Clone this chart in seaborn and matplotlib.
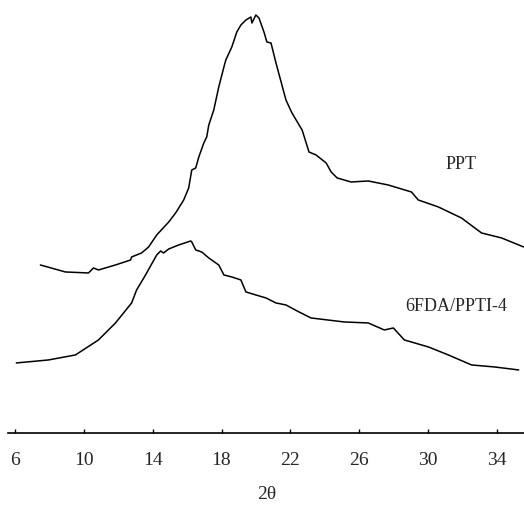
import matplotlib as mpl
mpl.use('Agg')
from matplotlib import pyplot as plt
import numpy as np
import pandas as pd
import seaborn as sns

ppt_2theta = [7.46, 8.92, 10.26, 10.55, 10.84, 11.83, 12.71, 12.77, 13.35, 13.76,
              14.23, 14.93, 15.33, 15.80, 16.09, 16.27, 16.50, 16.68, 16.97, 17.14,
              17.26, 17.55, 17.84, 18.14, 18.25, 18.60, 18.89, 19.13, 19.42, 19.71,
              19.77, 20.00, 20.18, 20.47, 20.64, 20.88, 21.17, 21.75, 22.10, 22.69,
              23.09, 23.50, 24.09, 24.38, 24.73, 25.54, 26.54, 27.70, 29.05, 29.45,
              30.62, 31.96, 33.13, 34.30, 35.58]
ppt_int = [168, 161, 160, 165, 163, 168, 173, 176, 180, 186,
           198, 211, 220, 233, 245, 263, 265, 276, 290, 296,
           308, 323, 346, 366, 373, 386, 401, 408, 413, 416,
           410, 418, 415, 401, 391, 390, 370, 333, 320, 303,
           281, 278, 270, 261, 255, 251, 252, 248, 241, 233,
           226, 215, 200, 195, 186]

pi_2theta = [6.06, 7.93, 9.50, 10.84, 11.83, 12.77, 13.06, 13.58, 14.23, 14.46,
             14.63, 14.93, 15.51, 16.21, 16.27, 16.50, 16.85, 17.26, 17.84, 18.14,
             18.60, 19.13, 19.42, 20.00, 20.59, 21.17, 21.75, 22.51, 23.21, 25.14,
             26.54, 27.47, 28.00, 28.64, 30.04, 31.20, 32.55, 33.89, 35.29]
pi_int = [70, 73, 78, 93, 110, 130, 143, 158, 178, 182,
          180, 184, 188, 192, 191, 183, 181, 175, 168, 158,
          156, 153, 141, 138, 135, 130, 128, 121, 115, 111,
          110, 103, 105, 93, 86, 78, 68, 66, 63]

xticks = [6, 10, 14, 18, 22, 26, 30, 34]

sns.set_style("white")
plt.rcParams['font.family'] = ['Liberation Serif', 'DejaVu Serif']

fig = plt.figure(figsize=(5.24, 5.21), dpi=100)
ax = fig.add_axes([0.016, 0.169, 0.984, 0.831])

df1 = pd.DataFrame({"x": ppt_2theta, "y": ppt_int})
df2 = pd.DataFrame({"x": pi_2theta, "y": pi_int})
sns.lineplot(data=df1, x="x", y="y", ax=ax, color="black", linewidth=1.1)
sns.lineplot(data=df2, x="x", y="y", ax=ax, color="black", linewidth=1.1)

ax.text(31.96, 268, "PPT", ha="center", va="center", fontsize=13)
ax.text(31.67, 126, "6FDA/PPTI-4", ha="center", va="center", fontsize=13)

ax.set_xlim(5.6, 35.6)
ax.set_ylim(0, 433)
ax.set_xticks(xticks)
ax.set_yticks([])
ax.tick_params(axis="x", direction="in", length=3, width=1, color="black",
               labelsize=14, pad=14, bottom=True)
for s in ["top", "right", "left"]:
    ax.spines[s].set_visible(False)
ax.spines["bottom"].set_color("black")
ax.spines["bottom"].set_linewidth(1.2)
ax.set_xlabel("2θ", fontsize=14, labelpad=12)
ax.set_ylabel("")

fig.savefig("out.png", dpi=100)
